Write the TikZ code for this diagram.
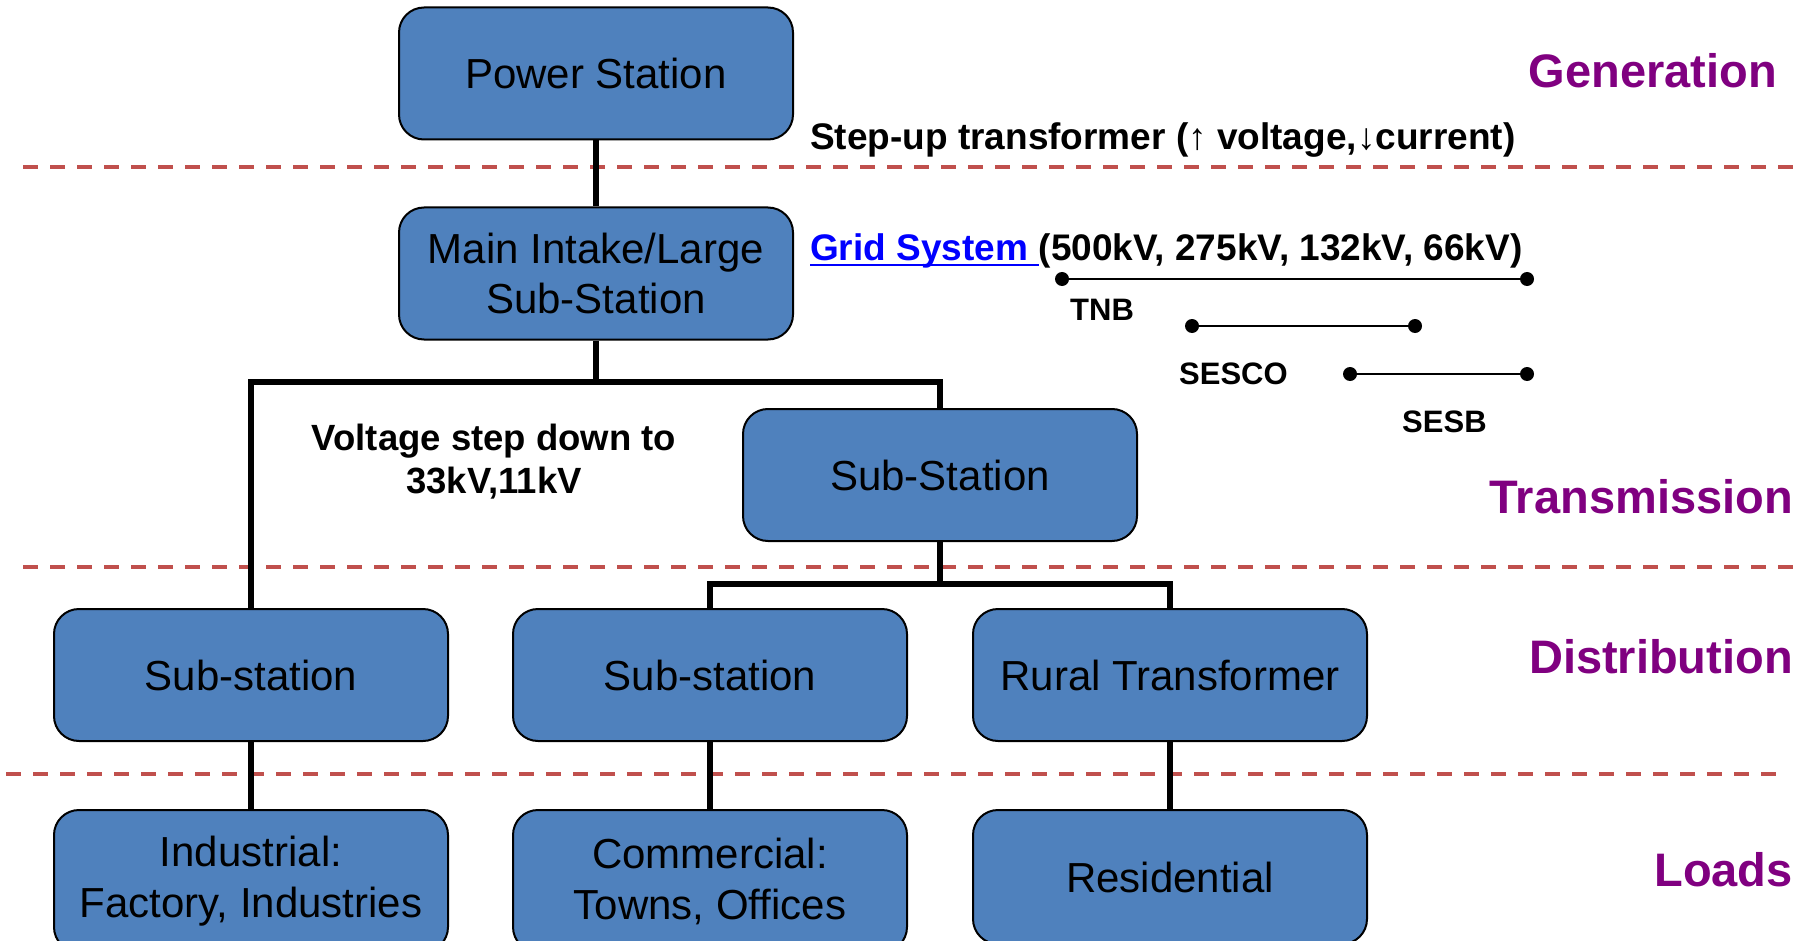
\documentclass[tikz,border=0pt]{standalone}
\usepackage{fontspec}
\setmainfont{Liberation Sans}
\definecolor{boxblue}{HTML}{4F81BD}
\definecolor{layerpurple}{HTML}{800080}
\definecolor{sepred}{HTML}{C0504D}
\definecolor{linkblue}{HTML}{0000FF}
\begin{document}
\begin{tikzpicture}[x=1pt,y=-1pt,
  box/.style={draw=black,line width=2pt,fill=boxblue,rounded corners=25pt,
    minimum width=394pt,minimum height=132pt,inner sep=0pt,align=center,
    font=\fontsize{42}{51}\selectfont},
  conn/.style={line width=5.5pt,black},
  layer/.style={text=layerpurple,font=\bfseries\fontsize{47}{56}\selectfont,anchor=east,inner sep=0pt},
  sep/.style={draw=sepred,line width=3.5pt,dash pattern=on 15pt off 12pt},
  note/.style={font=\bfseries\fontsize{37}{44}\selectfont,inner sep=0pt},
  smalllab/.style={font=\bfseries\fontsize{31}{37}\selectfont,inner sep=0pt,anchor=base west},
  dotline/.style={line width=2.5pt,black},
  dotend/.style={fill=black}
]
\useasboundingbox (0,0) rectangle (1814,941);
\clip (0,0) rectangle (1814,941);

% separators
\coordinate (s1a) at (23,167);  \coordinate (s1b) at (1799,167);
\coordinate (s2a) at (23,567);  \coordinate (s2b) at (1799,567);
\coordinate (s3a) at (6,774);   \coordinate (s3b) at (1782,774);
\draw[sep] (s1a) -- (s1b);
\draw[sep] (s2a) -- (s2b);
\draw[sep] (s3a) -- (s3b);

% boxes
\node[box] (ps) at (596,73.5) {Power Station};
\node[box,font=\fontsize{42}{50}\selectfont] (mi) at (596,273.5) {Main Intake/Large\\Sub-Station};
\node[box] (ts) at (940,475) {Sub-Station};
\node[box] (d1) at (251,675) {Sub-station};
\node[box] (d2) at (710,675) {Sub-station};
\node[box] (d3) at (1170,675) {Rural Transformer};
\node[box,minimum height=142pt] (l1) at (251,881) {Industrial:\\Factory, Industries};
\node[box,minimum height=142pt] (l2) at (710,881) {Commercial:\\Towns, Offices};
\node[box,minimum height=134pt] (l3) at (1170,877) {Residential};

% connectors
\coordinate (j1) at (596,382);
\coordinate (j2) at (940,584);
\draw[conn] (ps.south) -- (mi.north);
\draw[conn] (mi.south) -- (j1);
\draw[conn] (d1.north) |- (j1) -| (ts.north);
\draw[conn] (ts.south) -- (j2);
\draw[conn] (d2.north) |- (j2) -| (d3.north);
\draw[conn] (d1.south) -- (l1.north);
\draw[conn] (d2.south) -- (l2.north);
\draw[conn] (d3.south) -- (l3.north);

% notes
\node[note,anchor=base west] (stepup) at (810,150) {Step-up transformer (↑ voltage,↓current)};
\node[note,anchor=base west,text=linkblue] (grid) at (810,261) {Grid System\kern0.28em\relax};
\node[note,anchor=base west] (kv) at (grid.base east) {(500kV, 275kV, 132kV, 66kV)};
\draw[linkblue,line width=2.5pt] ([yshift=-4pt]grid.base west) -- ([yshift=-4pt]grid.base east);

\node[note,font=\bfseries\fontsize{36.5}{43}\selectfont,align=center] (vsd) at (494,462) {Voltage step down to\\33kV,11kV};

% utility ranges
\coordinate (tnbA) at (1062,279); \coordinate (tnbB) at (1527,279);
\coordinate (scoA) at (1192,326); \coordinate (scoB) at (1415,326);
\coordinate (sbA) at (1350,374);  \coordinate (sbB) at (1527,374);
\draw[dotline] (tnbA) -- (tnbB);
\draw[dotline] (scoA) -- (scoB);
\draw[dotline] (sbA) -- (sbB);
\foreach \p in {tnbA,tnbB,scoA,scoB,sbA,sbB} \fill[dotend] (\p) circle (7pt);
\node[smalllab] (tnb) at (1070,320) {TNB};
\node[smalllab] (sesco) at (1179,384) {SESCO};
\node[smalllab] (sesb) at (1402,432) {SESB};

% layer labels
\node[layer] (gen) at (1777,71) {Generation};
\node[layer] (tra) at (1793,497) {Transmission};
\node[layer] (dis) at (1793,657) {Distribution};
\node[layer] (loa) at (1793,870) {Loads};
\end{tikzpicture}
\end{document}
